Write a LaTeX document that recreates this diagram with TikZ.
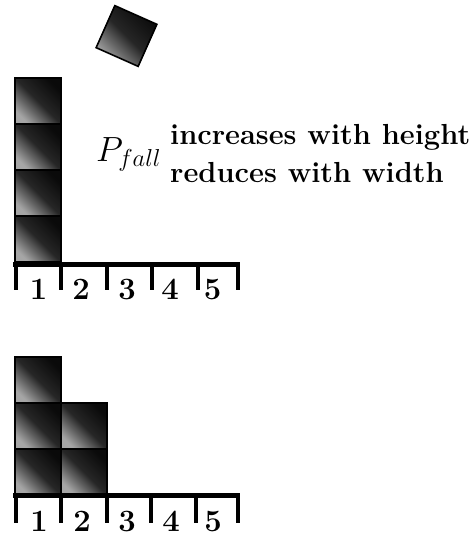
\RequirePackage{fix-cm}
\documentclass[tikz,border=0pt]{standalone}
\usetikzlibrary{positioning}

\tikzset{
  block/.style={draw=black, line width=1.6pt, minimum size=46pt, inner sep=0pt, outer sep=0pt,
    top color=black!96, bottom color=black!35, middle color=black!85, shading angle=-45},
  bar/.style={line width=5pt},
  tickmark/.style={line width=4pt},
  digit/.style={font=\fontsize{31}{31}\selectfont\bfseries, inner sep=0pt, anchor=base},
  note/.style={font=\fontsize{29}{29}\selectfont\bfseries, inner sep=0pt, anchor=base west},
}

\begin{document}
\begin{tikzpicture}[x=1pt,y=-1pt]
  \useasboundingbox (0,0) rectangle (473,538);

  % falling block
  \node[block, rotate=-24] (drop) at (126.5,36) {};

  % tall column on slot 1
  \node[block] (a1) at (38,239) {};
  \node[block, above=0pt of a1] (a2) {};
  \node[block, above=0pt of a2] (a3) {};
  \node[block, above=0pt of a3] (a4) {};

  % upper ruler
  \draw[bar] (13,264.5) -- (239.5,264.5);
  \foreach \x in {15.5,61,106.5,152,197.5,237.5}
    \draw[tickmark] (\x,263) -- (\x,290);
  \foreach \x/\n in {38.5/1,81/2,127/3,170/4,212.5/5}
    \node[digit] (u\n) at (\x,299) {\n};

  % probability text
  \node[inner sep=0pt, anchor=base west, font=\fontsize{35}{35}\selectfont] (pf) at (96,161) {$P_{fall}$};
  \node[note] (inc) at (170,144) {increases with height};
  \node[note] (red) at (170,182) {reduces with width};

  % spread stack on slots 1 and 2
  \node[block] (b1) at (38,472) {};
  \node[block, above=0pt of b1] (b2) {};
  \node[block, above=0pt of b2] (b3) {};
  \node[block, right=0pt of b1] (c1) {};
  \node[block, above=0pt of c1] (c2) {};

  % lower ruler
  \draw[bar] (13,495.5) -- (239.5,495.5);
  \foreach \x in {15.5,61,106.5,151,195.5,237.5}
    \draw[tickmark] (\x,494) -- (\x,523);
  \foreach \x/\n in {39/1,82/2,127/3,171/4,213/5}
    \node[digit] (l\n) at (\x,531) {\n};
\end{tikzpicture}
\end{document}
